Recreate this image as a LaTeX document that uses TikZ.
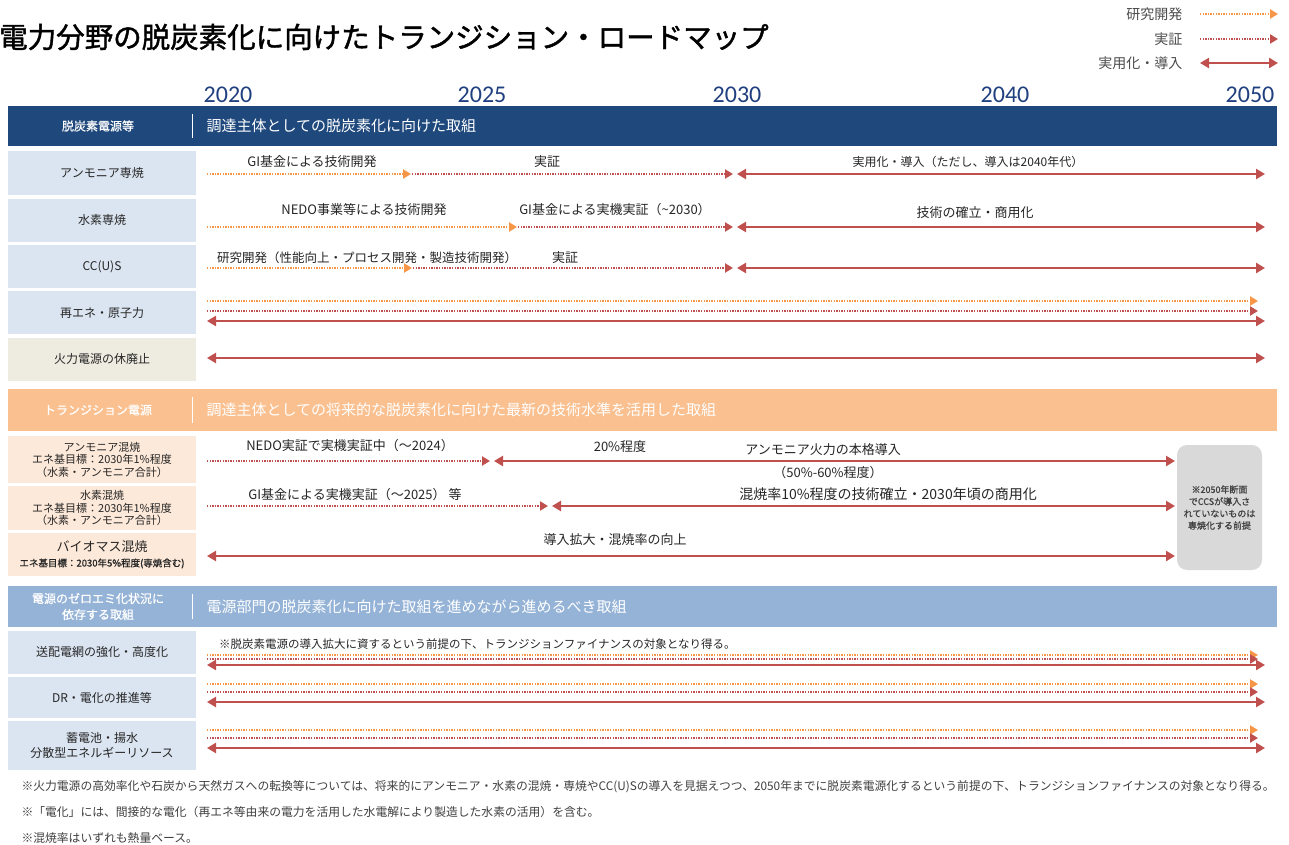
\documentclass[tikz,border=0pt]{standalone}
\usepackage{fontspec}
\setmainfont{Noto Sans CJK JP}
\newfontfamily\yearfont{Carlito}
\newfontfamily\titlefont[FakeBold=1.5]{Noto Sans CJK JP}
\newfontfamily\boldish[FakeBold=0.8]{Noto Sans CJK JP}
\usetikzlibrary{positioning, arrows.meta}

\definecolor{navy}{HTML}{1F497D}
\definecolor{peachhd}{HTML}{FAC090}
\definecolor{steelhd}{HTML}{95B3D7}
\definecolor{paleblue}{HTML}{DBE5F1}
\definecolor{palebeige}{HTML}{EEECE1}
\definecolor{palepeach}{HTML}{FDE9D9}
\definecolor{resorange}{HTML}{F79646}
\definecolor{demred}{HTML}{C0504D}
\definecolor{yearblue}{HTML}{1F3F7F}

\begin{document}
\begin{tikzpicture}[
        x=1pt, y=-1pt,
        research/.style={draw=resorange, line width=2.6pt, dash pattern=on 1.3pt off 1.3pt,
            -{Triangle[length=8pt, width=9pt]}},
        demo/.style={research, draw=demred},
        deploy/.style={draw=demred, line width=2.5pt,
            {Triangle[length=9pt, width=10pt]}-{Triangle[length=9pt, width=10pt]}},
        rowlabel/.style={fill=paleblue, minimum width=188pt, minimum height=43pt, inner sep=0pt,
            align=center, text=black!85, font=\fontsize{12}{15}\selectfont},
        band/.style={anchor=north west, minimum width=1269pt, inner sep=0pt},
        bandtext/.style={anchor=west, text=white, font=\fontsize{15}{18}\selectfont},
        bandlabel/.style={align=center, text=white, font=\boldish\fontsize{12}{16}\selectfont},
        note/.style={inner sep=1pt, text=black!85, font=\fontsize{13}{15}\selectfont},
        year/.style={text=yearblue, font=\yearfont\fontsize{24}{26}\selectfont},
        legend/.style={anchor=east, text=black!70, font=\fontsize{14}{16}\selectfont},
        foot/.style={anchor=west, text=black!75, font=\fontsize{11.8}{14}\selectfont},
    ]
    \path[use as bounding box, fill=white] (0,0) rectangle (1289,845);

    % Title
    \node[anchor=west, inner sep=0pt, font=\titlefont\fontsize{28.5}{32}\selectfont] (title) at (-1,37)
        {電力分野の脱炭素化に向けたトランジション・ロードマップ};

    % Legend
    \foreach \name / \y / \txt in {res/14/研究開発, dem/39/実証, use/63/実用化・導入} {
        \node[legend] (leg-\name) at (1186,\y) {\txt};
        \coordinate (leg-\name-a) at (1200,\y);
        \coordinate (leg-\name-b) at (1278,\y);
    }
    \draw[research] (leg-res-a) -- (leg-res-b);
    \draw[demo] (leg-dem-a) -- (leg-dem-b);
    \draw[deploy] (leg-use-a) -- (leg-use-b);

    % Years
    \foreach \yr / \x in {2020/228, 2025/482, 2030/737, 2040/1005, 2050/1250}
        \node[year] (y\yr) at (\x,95) {\yr};

    % Section bands
    \node[band, fill=navy, minimum height=40pt] (band1) at (8,106) {};
    \node[bandlabel] (band1-l) at (98,126) {脱炭素電源等};
    \node[bandtext] (band1-t) at (203,126) {調達主体としての脱炭素化に向けた取組};
    \draw[white, line width=1pt] (band1.north west) ++(184,8) -- ++(0,24);

    \node[band, fill=peachhd, minimum height=42pt] (band2) at (8,389) {};
    \node[bandlabel] (band2-l) at (98,410) {トランジション電源};
    \node[bandtext] (band2-t) at (203,410) {調達主体としての将来的な脱炭素化に向けた最新の技術水準を活用した取組};
    \draw[white, line width=1pt] (band2.north west) ++(184,8) -- ++(0,26);

    \node[band, fill=steelhd, minimum height=41pt] (band3) at (8,586) {};
    \node[bandlabel] (band3-l) at (98,606.5) {電源のゼロエミ化状況に\\依存する取組};
    \node[bandtext] (band3-t) at (203,606.5) {電源部門の脱炭素化に向けた取組を進めながら進めるべき取組};
    \draw[white, line width=1pt] (band3.north west) ++(184,8) -- ++(0,25);

    % Row labels
    \foreach \name / \y / \txt in {1/173/アンモニア専焼, 2/220/水素専焼, 3/266.5/CC(U)S, 4/312.5/再エネ・原子力}
        \node[rowlabel] (L\name) at (102,\y) {\txt};
    \node[rowlabel, fill=palebeige] (L5) at (102,359) {火力電源の休廃止};

    \node[rowlabel, fill=palepeach, minimum height=47pt, font=\fontsize{11}{12.5}\selectfont] (L6) at (102,459.5)
        {アンモニア混焼\\エネ基目標：2030年1\%程度\\（水素・アンモニア合計）};
    \node[rowlabel, fill=palepeach, minimum height=44pt, font=\fontsize{11}{12.5}\selectfont] (L7) at (102,508)
        {水素混焼\\エネ基目標：2030年1\%程度\\（水素・アンモニア合計）};
    \node[rowlabel, fill=palepeach, font=\fontsize{13}{15}\selectfont] (L8) at (102,554.5)
        {バイオマス混焼\\{\boldish\fontsize{9.5}{11}\selectfont エネ基目標：2030年5\%程度(専焼含む)}};

    \node[rowlabel] (L9) at (102,652) {送配電網の強化・高度化};
    \node[rowlabel, minimum height=41pt] (L10) at (102,697.5) {DR・電化の推進等};
    \node[rowlabel, minimum height=49pt] (L11) at (102,745.5) {蓄電池・揚水\\分散型エネルギーリソース};

    % Rows 1-3: research -> demonstration -> deployment
    \foreach \name / \y / \a in {1/174/412, 2/227/518, 3/268/413} {
        \coordinate (r\name-s) at (207,\y);
        \coordinate (r\name-a) at (\a,\y);
        \coordinate (r\name-b) at (735,\y);
        \coordinate (r\name-e) at (1265,\y);
        \draw[research, shorten >=1pt] (r\name-s) -- (r\name-a);
        \draw[demo, shorten >=2pt] (r\name-a) -- (r\name-b);
        \draw[deploy, shorten <=2pt] (r\name-b) -- (r\name-e);
    }
    \node[note] (t1a) at (312,162) {GI基金による技術開発};
    \node[note] (t1b) at (547,162) {実証};
    \node[note, font=\fontsize{12}{14}\selectfont] (t1c) at (968,162) {実用化・導入（ただし、導入は2040年代）};
    \node[note] (t2a) at (364,210) {NEDO事業等による技術開発};
    \node[note] (t2b) at (615,210) {GI基金による実機実証（\textasciitilde 2030）};
    \node[note] (t2c) at (975,213) {技術の確立・商用化};
    \node[note, font=\fontsize{12.5}{14}\selectfont] (t3a) at (367,258) {研究開発（性能向上・プロセス開発・製造技術開発）};
    \node[note] (t3b) at (565,258) {実証};

    % Rows with all three stages in parallel
    \foreach \name / \yo / \yd / \yu in {4/301/311/321, 9/655/659/665, 10/684/692/702, 11/730/738/748} {
        \coordinate (p\name-os) at (207,\yo);
        \coordinate (p\name-oe) at (1258,\yo);
        \coordinate (p\name-ds) at (207,\yd);
        \coordinate (p\name-de) at (1258,\yd);
        \coordinate (p\name-us) at (207,\yu);
        \coordinate (p\name-ue) at (1265,\yu);
        \draw[research] (p\name-os) -- (p\name-oe);
        \draw[demo] (p\name-ds) -- (p\name-de);
        \draw[deploy] (p\name-us) -- (p\name-ue);
    }
    \node[note, anchor=west, font=\fontsize{11.5}{14}\selectfont] (t9) at (218,644)
        {※脱炭素電源の導入拡大に資するという前提の下、トランジションファイナンスの対象となり得る。};

    % Row 5
    \coordinate (r5-s) at (207,358);
    \coordinate (r5-e) at (1265,358);
    \draw[deploy] (r5-s) -- (r5-e);

    % Transition rows
    \coordinate (r6-s) at (207,461);
    \coordinate (r6-a) at (492,461);
    \coordinate (r6-e) at (1175,461);
    \draw[demo, shorten >=2pt] (r6-s) -- (r6-a);
    \draw[deploy, shorten <=2pt] (r6-a) -- (r6-e);
    \node[note] (t6a) at (350,446) {NEDO実証で実機実証中（～2024）};
    \node[note] (t6b) at (620,447) {20\%程度};
    \node[note] (t6c) at (823,450) {アンモニア火力の本格導入};
    \node[note] (t6d) at (828,473) {（50\%-60\%程度）};

    \coordinate (r7-s) at (207,506);
    \coordinate (r7-a) at (550,506);
    \coordinate (r7-e) at (1175,506);
    \draw[demo, shorten >=2pt] (r7-s) -- (r7-a);
    \draw[deploy, shorten <=2pt] (r7-a) -- (r7-e);
    \node[note] (t7a) at (355,495) {GI基金による実機実証（～2025） 等};
    \node[note, font=\fontsize{14}{16}\selectfont] (t7b) at (888,494) {混焼率10\%程度の技術確立・2030年頃の商用化};

    \coordinate (r8-s) at (207,556);
    \coordinate (r8-e) at (1175,556);
    \draw[deploy] (r8-s) -- (r8-e);
    \node[note] (t8a) at (615,540) {導入拡大・混焼率の向上};

    % CCS premise box
    \node[fill=black!15, rounded corners=10pt, minimum width=85pt, minimum height=125pt, inner sep=2pt,
        align=center, text=black!75, font=\boldish\fontsize{9}{12}\selectfont] (ccs) at (1219.5,507.5)
        {※2050年断面\\でCCSが導入さ\\れていないものは\\専焼化する前提};

    % Footnotes
    \node[foot] (f1) at (18,787) {※火力電源の高効率化や石炭から天然ガスへの転換等については、将来的にアンモニア・水素の混焼・専焼やCC(U)Sの導入を見据えつつ、2050年までに脱炭素電源化するという前提の下、トランジションファイナンスの対象となり得る。};
    \node[foot] (f2) at (18,812) {※「電化」には、間接的な電化（再エネ等由来の電力を活用した水電解により製造した水素の活用）を含む。};
    \node[foot] (f3) at (18,838) {※混焼率はいずれも熱量ベース。};
\end{tikzpicture}
\end{document}
